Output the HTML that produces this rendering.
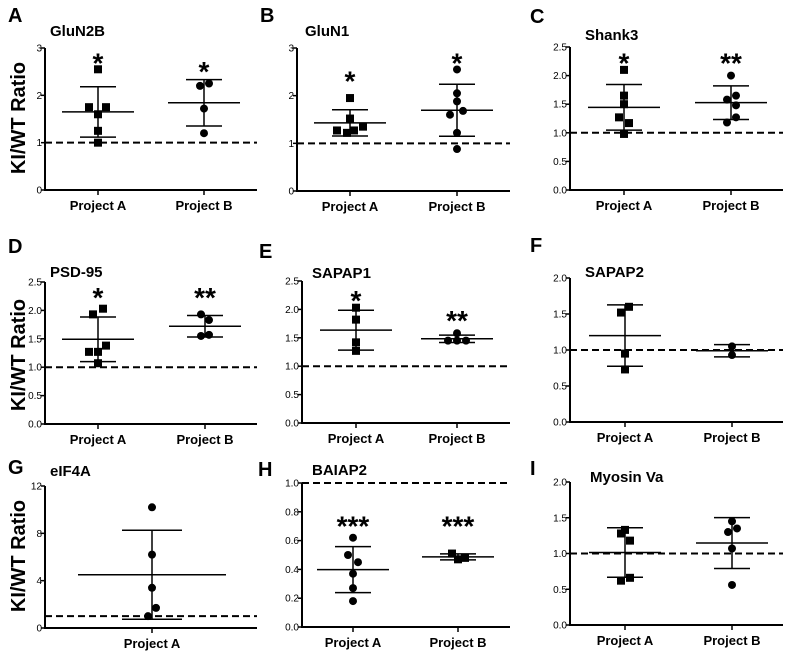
<!DOCTYPE html>
<html><head><meta charset="utf-8"><style>
html,body{margin:0;padding:0;background:#fff;}
svg{display:block;font-family:"Liberation Sans",Arial,sans-serif;}
</style></head><body>
<svg id="fig" width="795" height="664" viewBox="0 0 795 664" xmlns="http://www.w3.org/2000/svg"></svg>
<script>
// ---- data arrays ----
const panelLetters = ["A","B","C","D","E","F","G","H","I"];
const panelTitles = ["GluN2B","GluN1","Shank3","PSD-95","SAPAP1","SAPAP2","eIF4A","BAIAP2","Myosin Va"];
const categories = ["Project A","Project B"];
const tickLabelsA = ["0","1","2","3"];
const tickLabelsC = ["0.0","0.5","1.0","1.5","2.0","2.5"];
const tickLabelsF = ["0.0","0.5","1.0","1.5","2.0"];
const tickLabelsG = ["0","4","8","12"];
const tickLabelsH = ["0.0","0.2","0.4","0.6","0.8","1.0"];
const gluN2B_A = [2.55,1.75,1.75,1.6,1.25,1.0];
const gluN2B_B = [2.25,2.2,1.72,1.2];
const gluN1_A = [1.95,1.52,1.35,1.27,1.27,1.22];
const gluN1_B = [2.55,2.05,1.88,1.68,1.6,1.22,0.88];
const shank3_A = [2.1,1.65,1.5,1.27,1.17,0.98];
const shank3_B = [2.0,1.65,1.58,1.48,1.27,1.18];
const psd95_A = [2.03,1.93,1.38,1.27,1.27,1.07];
const psd95_B = [1.93,1.83,1.55,1.57];
const sapap1_A = [2.03,1.82,1.42,1.27];
const sapap1_B = [1.58,1.45,1.45,1.45];
const sapap2_A = [1.6,1.52,0.95,0.73];
const sapap2_B = [1.05,0.93];
const eif4a_A = [10.2,6.2,3.4,1.7,1.0];
const baiap2_A = [0.62,0.5,0.45,0.37,0.27,0.18];
const baiap2_B = [0.51,0.47,0.48];
const myosin_A = [1.33,1.28,1.18,0.66,0.62];
const myosin_B = [1.45,1.35,1.3,1.07,0.56];

// ---- layout (non-data) ----
const panels = [
 {x0:45,x1:257,yTop:48,yBot:190,max:3,ticks:tickLabelsA,cx:[98,204],series:[gluN2B_A,gluN2B_B],jit:[[0,-9,8,0,0,0],[5,-4,0,0]],mark:["sq","ci"],st:["*","*"],stv:[2.8,2.62],lx:8,ly:22,tx:50,ty:36},
 {x0:297,x1:510,yTop:48,yBot:191,max:3,ticks:tickLabelsA,cx:[350,457],series:[gluN1_A,gluN1_B],jit:[[0,0,13,-13,4,-3],[0,0,0,6,-7,0,0]],mark:["sq","ci"],st:["*","*"],stv:[2.42,2.8],lx:260,ly:22,tx:305,ty:36},
 {x0:570,x1:783,yTop:47,yBot:190,max:2.5,ticks:tickLabelsC,cx:[624,731],series:[shank3_A,shank3_B],jit:[[0,0,0,-5,5,0],[0,5,-4,5,5,-4]],mark:["sq","ci"],st:["*","**"],stv:[2.32,2.32],lx:530,ly:23,tx:585,ty:40},
 {x0:45,x1:257,yTop:282,yBot:424,max:2.5,ticks:tickLabelsC,cx:[98,205],series:[psd95_A,psd95_B],jit:[[5,-5,8,-9,0,0],[-4,4,-4,4]],mark:["sq","ci"],st:["*","**"],stv:[2.32,2.32],lx:8,ly:253,tx:50,ty:277},
 {x0:302,x1:510,yTop:281,yBot:423,max:2.5,ticks:tickLabelsC,cx:[356,457],series:[sapap1_A,sapap1_B],jit:[[0,0,0,0],[0,-9,0,9]],mark:["sq","ci"],st:["*","**"],stv:[2.25,1.9],lx:259,ly:258,tx:312,ty:278},
 {x0:570,x1:783,yTop:278,yBot:422,max:2,ticks:tickLabelsF,cx:[625,732],series:[sapap2_A,sapap2_B],jit:[[4,-4,0,0],[0,0]],mark:["sq","ci"],st:["",""],stv:[0,0],lx:530,ly:252,tx:585,ty:277},
 {x0:45,x1:257,yTop:486,yBot:628,max:12,ticks:tickLabelsG,cx:[152],series:[eif4a_A],jit:[[0,0,0,4,-4]],mark:["ci"],st:[""],stv:[0],lx:8,ly:474,tx:50,ty:476,wide:true},
 {x0:302,x1:510,yTop:483,yBot:627,max:1,ticks:tickLabelsH,cx:[353,458],series:[baiap2_A,baiap2_B],jit:[[0,-5,5,0,0,0],[-6,0,7]],mark:["ci","sq"],st:["***","***"],stv:[0.74,0.74],lx:258,ly:476,tx:312,ty:475},
 {x0:570,x1:783,yTop:482,yBot:625,max:2,ticks:tickLabelsF,cx:[625,732],series:[myosin_A,myosin_B],jit:[[0,-4,5,5,-4],[0,5,-4,0,0]],mark:["sq","ci"],st:["",""],stv:[0,0],lx:530,ly:475,tx:590,ty:482}
];

const NS="http://www.w3.org/2000/svg";
const svg=document.getElementById('fig');
function mk(tag,attrs,parent){const e=document.createElementNS(NS,tag);for(const k in attrs)e.setAttribute(k,attrs[k]);(parent||svg).appendChild(e);return e;}
function mean(a){return a.reduce((s,v)=>s+v,0)/a.length;}
function sd(a){const m=mean(a);return a.length>1?Math.sqrt(a.reduce((s,v)=>s+(v-m)*(v-m),0)/(a.length-1)):0;}

panels.forEach((p,i)=>{
  const g=mk('g',{});
  
  
  const y=v=>p.yBot-(v/p.max)*(p.yBot-p.yTop);
  const L=mk('text',{x:p.lx,y:p.ly,'font-size':20,'font-weight':'bold'},g);L.textContent=panelLetters[i];
  
  
  const T=mk('text',{x:p.tx,y:p.ty,'font-size':15,'font-weight':'bold'},g);T.textContent=panelTitles[i];
  
  
  const ax=mk('path',{d:`M${p.x0},${p.yTop}V${p.yBot}H${p.x1}`,stroke:'#000','stroke-width':2,fill:'none'},g);
  
  
  const n=p.ticks.length;
  p.ticks.forEach((t,k)=>{
    const v=p.max*k/(n-1), yy=y(v);
    mk('line',{x1:p.x0-4,x2:p.x0,y1:yy,y2:yy,stroke:'#000','stroke-width':1.5},g);
    const tl=mk('text',{x:p.x0-3,y:yy+3.5,'font-size':10,'text-anchor':'end'},g);tl.textContent=t;
    
    
  });
  const dl=mk('line',{x1:p.x0,x2:p.x1,y1:y(1),y2:y(1),stroke:'#000','stroke-width':2,'stroke-dasharray':'7,4'},g);
  
  
  p.series.forEach((vals,s)=>{
    const cx=p.cx[s];
    mk('line',{x1:cx,x2:cx,y1:p.yBot,y2:p.yBot+5,stroke:'#000','stroke-width':1.5},g);
    const cl=mk('text',{x:cx,y:p.yBot+20,'font-size':13,'font-weight':'bold','text-anchor':'middle'},g);cl.textContent=categories[s];
    
    
    const m=mean(vals), d=sd(vals);
    const mh=p.wide?74:36, ch=p.wide?30:18;
    const eg=mk('g',{stroke:'#000','stroke-width':1.5},g);
    
    
    mk('line',{x1:cx-mh,x2:cx+mh,y1:y(m),y2:y(m)},eg);
    mk('line',{x1:cx,x2:cx,y1:y(m-d),y2:y(m+d)},eg);
    mk('line',{x1:cx-ch,x2:cx+ch,y1:y(m-d),y2:y(m-d)},eg);
    mk('line',{x1:cx-ch,x2:cx+ch,y1:y(m+d),y2:y(m+d)},eg);
    vals.forEach((v,k)=>{
      const px=cx+(p.jit[s][k]||0), py=y(v);
      let e;
      if(p.mark[s]==='sq') e=mk('rect',{x:px-4,y:py-4,width:8,height:8,fill:'#000'},g);
      else e=mk('circle',{cx:px,cy:py,r:4,fill:'#000'},g);
      
      
    });
    if(p.st[s]){
      const st=mk('text',{x:cx,y:y(p.stv[s])+15,'font-size':28,'font-weight':'bold','text-anchor':'middle'},g);
      st.textContent=p.st[s];
      
      
    }
  });
});
[[118],[355],[556]].forEach(([cy])=>{
  const t=mk('text',{x:0,y:0,'font-size':20,'font-weight':'bold','text-anchor':'middle',transform:`translate(25,${cy}) rotate(-90)`});
  t.textContent="KI/WT Ratio";
  
  
});
</script>
</body></html>
